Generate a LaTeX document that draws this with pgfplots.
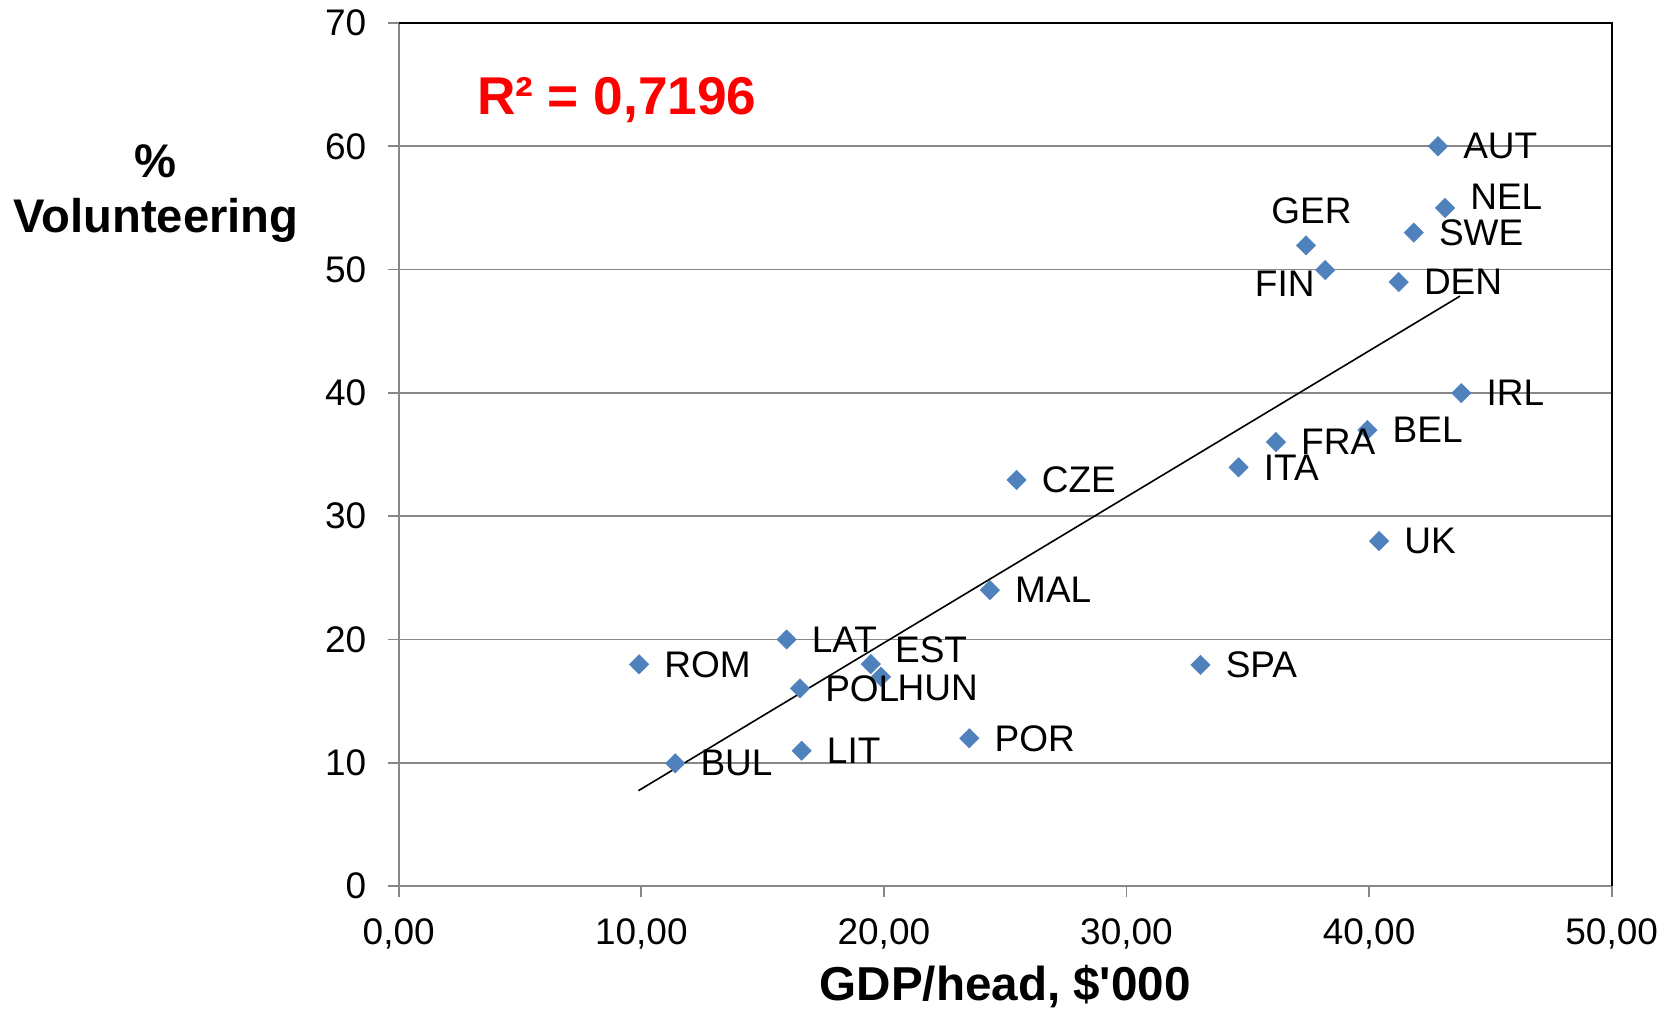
\documentclass[border=0pt]{standalone}
\usepackage{fontspec}
\setmainfont{Liberation Sans}
\usepackage{pgfplots}
\pgfplotsset{compat=1.18}
\usepackage{pgfplotstable}
\definecolor{markblue}{HTML}{4F81BD}
\definecolor{gridgray}{HTML}{878787}

\pgfplotstableread{
x y label dx dy
42.84 60.00 AUT 12.5 0
43.13 55.00 NEL 12.5 5.7
41.84 53.00 SWE 12.5 0
37.40 51.96 GER -17.5 17.3
38.19 49.96 FIN -35.3 -6.8
41.22 48.99 DEN 12.5 0
43.80 39.98 IRL 12.5 0
39.93 36.98 BEL 12.5 0
36.16 36.01 FRA 12.5 0
34.62 33.96 ITA 12.5 0
40.41 27.98 UK 12.5 0
25.47 32.94 CZE 12.5 0
24.37 24.00 MAL 12.5 0
33.05 17.93 SPA 12.5 0
15.99 20.00 LAT 12.5 0
19.46 18.00 EST 12.0 7
19.88 16.97 HUN 8.2 -5.8
16.54 16.03 POL 12.5 0
9.91 17.98 ROM 12.5 0
16.61 10.97 LIT 12.5 0
23.52 11.98 POR 12.5 0
11.40 9.95 BUL 12.5 0
}\datatable

\begin{document}
\begin{tikzpicture}
\path[use as bounding box] (-199.35pt,-63.5pt) rectangle (638.65pt,443pt);
\begin{axis}[
  scale only axis,
  width=606.5pt, height=431.5pt,
  xmin=0, xmax=50, ymin=0, ymax=70,
  xtick={0,10,...,50}, ytick={0,10,...,70},
  axis lines=left,
  axis line style={-, gridgray, line width=0.9pt},
  ymajorgrids,
  grid style={gridgray, line width=0.9pt},
  tick align=outside,
  major tick length=5.4pt,
  tick style={gridgray, line width=0.9pt},
  /pgf/number format/assume math mode=true,
  tick label style={font=\fontsize{18.5}{22}\selectfont, inner sep=0pt, text=black},
  xticklabel style={/pgf/number format/.cd, fixed, fixed zerofill, precision=2, use comma, /tikz/.cd, yshift=-10.8pt},
  yticklabel style={xshift=-10.6pt},
  clip=false,
]
\addplot[color=markblue, only marks, mark=square*, mark size=3.4pt,
  mark options={rotate=45, fill=markblue, draw=markblue, line width=0.3pt, solid},
  nodes near coords, point meta=explicit symbolic,
  visualization depends on={\thisrow{dx} \as \dx},
  visualization depends on={\thisrow{dy} \as \dy},
  nodes near coords style={anchor=west, inner sep=0pt, xshift=\dx pt, yshift=\dy pt, font=\fontsize{18.5}{22}\selectfont, text=black}
] table[x=x, y=y, meta=label] {\datatable};
\addplot[black, line width=0.8pt] coordinates {(9.88,7.73) (43.75,47.85)};
\draw[black, line width=0.9pt] (rel axis cs:0,1) -- (rel axis cs:1,1) -- (rel axis cs:1,0);
\node[anchor=base west, inner sep=0pt, text=red, font=\bfseries\fontsize{26.6}{30}\selectfont] at (rel axis cs:0.0643,0.894) {R² = 0,7196};
\node[anchor=base, inner sep=0pt, font=\bfseries\fontsize{23.8}{28}\selectfont] at (rel axis cs:0.5,-0.1329) {GDP/head, \$\textquotesingle 000};
\node[anchor=base, inner sep=0pt, font=\bfseries\fontsize{23.6}{28}\selectfont] at (rel axis cs:-0.2001,0.8211) {\%};
\node[anchor=base, inner sep=0pt, font=\bfseries\fontsize{23.6}{28}\selectfont] at (rel axis cs:-0.2001,0.7578) {Volunteering};
\end{axis}
\end{tikzpicture}
\end{document}
